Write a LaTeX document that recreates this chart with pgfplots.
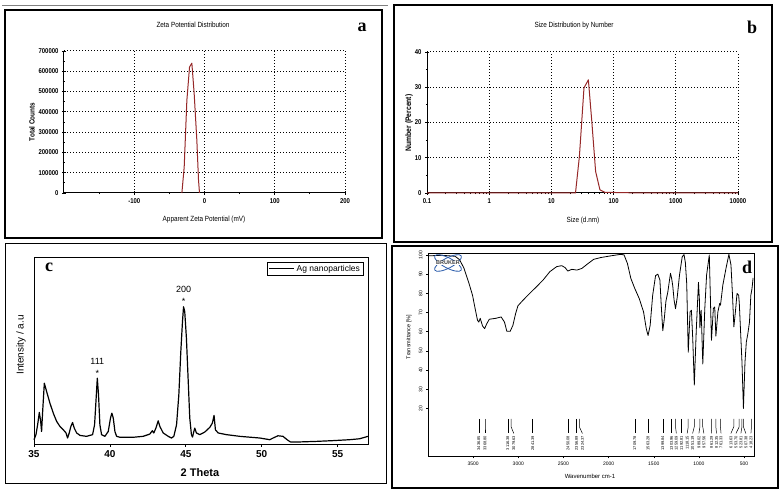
\documentclass[border=0pt]{standalone}
\usepackage{fontspec}
\setmainfont{Liberation Sans}
\newfontfamily\narrow[FakeStretch=0.85]{Liberation Sans}
\newfontfamily\serifb{Liberation Serif}
\usepackage{pgfplots}
\pgfplotsset{compat=1.18}
\definecolor{curvered}{RGB}{150,40,40}
\definecolor{brukerblue}{RGB}{40,90,170}
\newcommand{\peak}[3]{%
  \addplot[black,line width=0.5pt] coordinates {(#1,14.6)(#1,10.5)(#2,7)};
  \node[rotate=90,anchor=east,font=\fontsize{4}{4}\selectfont,inner sep=0.3pt] at (axis cs:#2,6) {#3};}
\pgfplotsset{
  malv/.style={scale only axis, axis x line=bottom, axis y line=left,
    axis line style={-, line width=1pt},
    grid=major, grid style={black, line width=1pt, dash pattern=on 1pt off 2pt},
    tick align=center, major tick length=4pt, minor tick length=2.5pt,
    every tick/.style={black, line width=0.8pt},
    tick label style={font=\narrow\bfseries\fontsize{7}{8}\selectfont},
    /pgf/number format/assume math mode=true, clip=false},
}
\begin{document}
\begin{tikzpicture}[x=1pt,y=1pt]
\useasboundingbox (0pt,0pt) rectangle (782pt,495pt);
\fill[white] (0pt,0pt) rectangle (782pt,495pt);
% ---------- panel frames
\draw[line width=1.3pt] (5pt,257pt) rectangle (382pt,485pt);
\draw[line width=0.6pt,gray] (2pt,490pt) -- (388pt,490pt);
\draw[line width=1.3pt] (394pt,253pt) rectangle (772pt,490pt);
\draw[line width=1.0pt] (5pt,11pt) rectangle (386pt,251pt);
\draw[line width=2pt] (392pt,7pt) rectangle (778pt,249pt);
% ---------- panel a
\begin{axis}[malv, at={(64pt,302pt)}, anchor=south west, width=281pt, height=142pt,
  xmin=-200, xmax=200, ymin=0, ymax=700000,
  xtick={-100,0,100,200}, xticklabels={-100,0,100,200},
  minor xtick={-150,-50,50,150},
  ytick={0,100000,200000,300000,400000,500000,600000,700000},
  yticklabels={0,100000,200000,300000,400000,500000,600000,700000},
  scaled y ticks=false,
  minor ytick={50000,150000,250000,350000,450000,550000,650000}]
\addplot[curvered, line width=1pt, line join=round] coordinates {
 (-32.2,0)(-28.9,128000)(-25.1,457000)(-21.3,621000)(-18.0,640000)
 (-14.7,490000)(-10.9,260000)(-8.5,62000)(-7.1,0)};
\end{axis}
\node[font=\narrow\fontsize{7.5}{9}\selectfont] at (193pt,470pt) {Zeta Potential Distribution};
\node[font=\serifb\bfseries\fontsize{18}{20}\selectfont] at (362pt,468pt) {a};
\node[rotate=90,font=\narrow\bfseries\fontsize{7.5}{9}\selectfont] at (32pt,373pt) {Total Counts};
\node[font=\narrow\fontsize{7.5}{9}\selectfont] at (204pt,275pt) {Apparent Zeta Potential (mV)};
% ---------- panel b
\begin{axis}[malv, at={(427pt,302pt)}, anchor=south west, width=311pt, height=141pt,
  xmode=log, xmin=0.1, xmax=10000, ymin=0, ymax=40,
  xtick={0.1,1,10,100,1000,10000}, xticklabels={0.1,1,10,100,1000,10000},
  minor xtick={0.2,0.3,0.4,0.5,0.6,0.7,0.8,0.9,2,3,4,5,6,7,8,9,20,30,40,50,60,70,80,90,200,300,400,500,600,700,800,900,2000,3000,4000,5000,6000,7000,8000,9000},
  ytick={0,10,20,30,40}, minor ytick={5,15,25,35}]
\addplot[curvered, line width=1pt, line join=round] coordinates {
 (0.1,0)(1,0)(10,0)(22,0)(24.4,0)(28.2,10.4)(33.4,29.8)(39.3,32.1)(44.4,20.8)
 (51.4,6.1)(60.3,0.9)(72.4,0.2)(100,0.15)(200,0.05)(1000,0)(10000,0)};
\end{axis}
\node[font=\narrow\fontsize{7.5}{9}\selectfont] at (574pt,469pt) {Size Distribution by Number};
\node[font=\serifb\bfseries\fontsize{18}{20}\selectfont] at (752pt,468pt) {b};
\node[rotate=90,font=\narrow\bfseries\fontsize{8}{9}\selectfont] at (409pt,372pt) {Number (Percent)};
\node[font=\narrow\fontsize{7.5}{9}\selectfont] at (583pt,274pt) {Size (d.nm)};
% ---------- panel c
\begin{axis}[scale only axis, at={(34pt,51pt)}, anchor=south west, width=334pt, height=187pt,
  xmin=35, xmax=57, ymin=0, ymax=100,
  xtick={35,40,45,50,55}, ytick=\empty, xtick pos=bottom, tick align=outside,
  major tick length=3pt, axis line style={line width=0.9pt},
  every tick/.style={black, line width=0.7pt},
  tick label style={font=\bfseries\fontsize{10}{12}\selectfont},
  /pgf/number format/assume math mode=true, clip=false,
  legend style={at={(1,1)}, anchor=north east, xshift=-5pt, yshift=-5pt,
    font=\fontsize{8.5}{9}\selectfont, inner sep=0.8pt, row sep=-1pt,
    draw=black, line width=0.5pt},
  legend cell align=left,
  legend image code/.code={\draw[#1] (0pt,0pt) -- (25pt,0pt);}]
\addplot[black, line width=1.2pt, line join=round] coordinates {
(35.00,2.3)(35.13,5.0)(35.24,10.3)(35.35,16.9)(35.44,12.1)(35.50,6.7)(35.57,17.4)(35.68,32.5)(35.83,28.1)(36.05,21.8)(36.27,16.5)(36.49,12.1)(36.71,9.4)(36.93,7.6)(37.11,5.9)(37.21,3.2)(37.32,5.9)(37.43,9.4)(37.54,11.5)(37.65,8.5)(37.81,5.9)(38.03,4.6)(38.46,4.1)(38.86,5.0)(38.99,10.3)(39.08,22.7)(39.17,35.2)(39.25,26.3)(39.34,10.3)(39.45,5.0)(39.67,4.1)(39.89,6.7)(40.04,13.9)(40.13,16.5)(40.22,13.9)(40.33,6.7)(40.44,4.1)(40.66,3.6)(41.54,3.6)(42.19,4.1)(42.63,5.3)(42.79,7.1)(42.89,5.9)(43.03,8.5)(43.18,12.4)(43.29,9.4)(43.51,5.9)(43.84,4.1)(44.06,3.2)(44.21,4.1)(44.39,10.3)(44.54,26.3)(44.67,49.4)(44.78,65.4)(44.85,73.4)(44.93,70.7)(45.04,56.5)(45.15,35.2)(45.26,13.9)(45.37,5.0)(45.44,3.7)(45.53,6.7)(45.59,8.5)(45.70,5.9)(45.92,5.0)(46.25,6.4)(46.58,8.9)(46.75,11.2)(46.86,15.3)(46.95,7.6)(47.13,5.9)(47.68,5.0)(48.55,4.1)(49.87,3.2)(50.53,2.3)(50.75,3.2)(51.07,4.4)(51.40,4.1)(51.67,2.3)(51.89,1.1)(52.50,1.1)(53.60,1.4)(54.69,1.8)(55.79,2.3)(56.45,2.8)(57.00,4.1)};
\addlegendentry{Ag nanoparticles}
\node[anchor=base,font=\fontsize{9}{10}\selectfont] at (axis cs:39.17,42.7) {111};
\node[anchor=base,font=\fontsize{9}{10}\selectfont] at (axis cs:39.17,36.3) {*};
\node[anchor=base,font=\fontsize{9}{10}\selectfont] at (axis cs:44.85,81.1) {200};
\node[anchor=base,font=\fontsize{9}{10}\selectfont] at (axis cs:44.85,74.5) {*};
\end{axis}
\node[font=\serifb\bfseries\fontsize{18}{20}\selectfont] at (49pt,228pt) {c};
\node[rotate=90,font=\fontsize{10}{12}\selectfont] at (21pt,150pt) {Intensity / a.u};
\node[font=\bfseries\fontsize{11}{13}\selectfont] at (200pt,22pt) {2 Theta};
% ---------- panel d
\begin{axis}[scale only axis, at={(428pt,38.5pt)}, anchor=south west, width=326pt, height=203.5pt,
  x dir=reverse, xmin=390, xmax=4000, ymin=-5, ymax=101,
  xtick={500,1000,1500,2000,2500,3000,3500}, ytick={20,30,40,50,60,70,80,90,100},
  tick align=outside, major tick length=2pt, axis line style={line width=0.6pt},
  xtick pos=bottom, ytick pos=left,
  every tick/.style={black, line width=0.5pt},
  tick label style={font=\fontsize{5}{6}\selectfont},
  yticklabel style={rotate=90, anchor=south},
  /pgf/number format/assume math mode=true, /pgf/number format/1000 sep={}, clip=false]
\addplot[black, line width=0.8pt, line join=round] coordinates {
(4000,99.5)(3850,99.8)(3700,99.3)(3650,97.5)(3601,93)(3545,85)(3507,79)(3478,72)(3452,66)(3437,65)(3422,67)(3396,63)(3373,61.6)(3351,64)(3321,66.5)(3246,67)(3190,67.7)(3153,65)(3127,60.2)(3090,60.2)(3060,63.3)(3030,69.4)(3004,73.5)(2948,76.4)(2873,80)(2799,83.4)(2724,87)(2650,91.3)(2575,93.9)(2519,94.4)(2482,93.4)(2452,91.6)(2407,92.5)(2351,92.1)(2295,93)(2239,95.1)(2165,97.7)(2090,98.6)(1978,99.5)(1866,100.3)(1829,100)(1792,95.6)(1754,87.8)(1710,82.5)(1661,77.3)(1613,70.3)(1583,61.6)(1563,58)(1540,63.3)(1512,79)(1480,89.2)(1455,90)(1432,86.9)(1415,72)(1400,60.5)(1385,66)(1365,76)(1345,80.5)(1315,90.4)(1303,88)(1290,84)(1275,76.5)(1259,72)(1240,78)(1215,89.5)(1185,99)(1165,100.2)(1150,96)(1135,85)(1118,49.3)(1098,70.3)(1083,71.2)(1068,56)(1051,32.2)(1030,60)(1005,85.7)(995,77)(989,62)(975,71.2)(957,43.2)(935,72)(915,89.5)(885,100)(861,55.5)(840,72.1)(825,72.9)(812,57.7)(790,70.3)(770,74.7)(761,73.8)(735,84.3)(700,93)(668,100.3)(645,94.8)(628,79)(613,62.5)(596,70.3)(578,79.9)(560,79)(553,75)(540,61.6)(523,44)(507,20)(490,44)(475,54.6)(458,59)(440,65)(425,79)(412,82.5)(400,88)};
\peak{3436.85}{3436.85}{3436.85}
\peak{3368.80}{3368.80}{3368.80}
\peak{3116.38}{3116.38}{3116.38}
\peak{3079.63}{3050}{3079.63}
\peak{2841.39}{2841.39}{2841.39}
\peak{2450.08}{2450.08}{2450.08}
\peak{2356.89}{2356.89}{2356.89}
\peak{2324.37}{2290}{2324.37}
\peak{1709.78}{1709.78}{1709.78}
\peak{1563.28}{1563.28}{1563.28}
\peak{1399.84}{1399.84}{1399.84}
\peak{1303.96}{1303.96}{1303.96}
\peak{1259.09}{1250}{1259.09}
\peak{1192.81}{1192.81}{1192.81}
\peak{1118.15}{1130}{1118.15}
\peak{1051.19}{1070}{1051.19}
\peak{989.02}{1000}{989.02}
\peak{957.56}{945}{957.56}
\peak{861.29}{860}{861.29}
\peak{812.35}{805}{812.35}
\peak{761.33}{755}{761.33}
\peak{613.63}{646}{613.63}
\peak{553.70}{590}{553.70}
\peak{523.81}{535}{523.81}
\peak{507.38}{480}{507.38}
\peak{418.23}{424}{418.23}
\end{axis}
% Bruker logo
\begin{scope}[shift={(448pt,232pt)}]
\draw[brukerblue, line width=0.8pt, rotate=28] (0pt,0pt) ellipse (15pt and 5pt);
\draw[brukerblue, line width=0.8pt, rotate=-28] (0pt,0pt) ellipse (15pt and 5pt);
\node[fill=white, inner sep=0.5pt, font=\bfseries\fontsize{5.5}{6}\selectfont, text=black!75] at (0pt,0pt) {BRUKER};
\end{scope}
\node[font=\serifb\bfseries\fontsize{18}{20}\selectfont] at (747pt,228pt) {d};
\node[rotate=90,font=\fontsize{5.5}{6}\selectfont] at (409pt,158pt) {Transmittance [\%]};
\node[font=\fontsize{6}{7}\selectfont] at (590pt,19pt) {Wavenumber cm-1};
\end{tikzpicture}
\end{document}
